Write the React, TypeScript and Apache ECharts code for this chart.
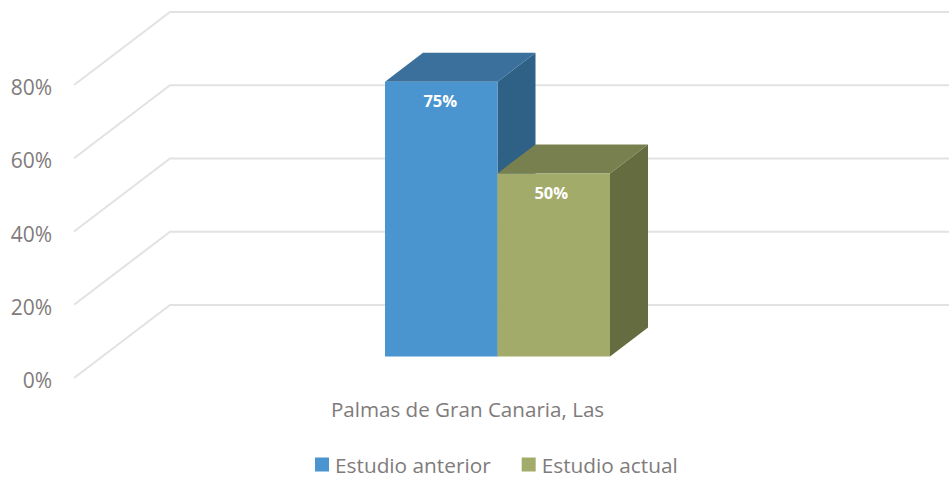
import React, { useEffect, useRef } from "react";
import * as echarts from "echarts";

const categories = ["Palmas de Gran Canaria, Las"];
const seriesNames = ["Estudio anterior", "Estudio actual"];
const estudioAnterior = [75];
const estudioActual = [50];
const yTicks = [0, 20, 40, 60, 80];

const W = 949;
const H = 477;
const FONT = "'Open Sans', sans-serif";
const TEXT = "#7f7b7b";
const BAR_W = 112.5;
const PLANE_DX = 30;
const PLANE_DY = 21.5;
const DEPTH_DX = 38;
const DEPTH_DY = 29;

function barSeries(name: string, values: number[], slot: number, front: string, top: string, side: string) {
  return {
    type: "custom",
    name,
    itemStyle: { color: front },
    encode: { x: 0, y: 1 },
    clip: false,
    z: 3,
    data: values.map((v, i) => [i, v]),
    renderItem: (_: any, api: any) => {
      const c = api.coord([api.value(0), api.value(1)]);
      const b = api.coord([api.value(0), 0]);
      const x0 = c[0] + PLANE_DX + (slot - 1) * BAR_W;
      const x1 = x0 + BAR_W;
      const yT = c[1] - PLANE_DY;
      const yB = b[1] - PLANE_DY;
      return {
        type: "group",
        children: [
          {
            type: "polygon",
            shape: { points: [[x1, yT], [x1 + DEPTH_DX, yT - DEPTH_DY], [x1 + DEPTH_DX, yB - DEPTH_DY], [x1, yB]] },
            style: { fill: side },
          },
          {
            type: "polygon",
            shape: { points: [[x0, yT], [x0 + DEPTH_DX, yT - DEPTH_DY], [x1 + DEPTH_DX, yT - DEPTH_DY], [x1, yT]] },
            style: { fill: top },
          },
          {
            type: "rect",
            shape: { x: x0, y: yT, width: BAR_W, height: yB - yT },
            style: { fill: front },
          },
          {
            type: "text",
            x: x0 + BAR_W / 2 - 1 - slot * 1.5,
            y: yT + 19,
            style: {
              text: api.value(1) + "%",
              fill: "#ffffff",
              font: `bold 16.5px ${FONT}`,
              align: "center",
              verticalAlign: "middle",
            },
          },
        ],
      };
    },
  };
}

export default function App() {
  const ref = useRef<HTMLDivElement>(null);
  useEffect(() => {
    document.body.style.margin = "0";
    const chart = echarts.init(ref.current!, undefined, { renderer: "svg" });
    chart.setOption({
      animation: false,
      backgroundColor: "#ffffff",
      grid: { left: 74, top: 85, width: 787, height: 293 },
      legend: {
        data: seriesNames,
        left: 310,
        top: 449,
        icon: "rect",
        itemWidth: 14,
        itemHeight: 14,
        itemGap: 31,
        textStyle: { color: TEXT, fontFamily: FONT, fontSize: 20.8, padding: [0, 0, 0, 1] },
      },
      xAxis: {
        type: "category",
        data: categories,
        axisLine: { show: false },
        axisTick: { show: false },
        axisLabel: { color: TEXT, fontFamily: FONT, fontSize: 20.6, margin: 20 },
      },
      yAxis: {
        type: "value",
        min: 0,
        max: 80,
        interval: 20,
        axisLine: { show: false },
        axisTick: { show: false },
        splitLine: { show: false },
        axisLabel: {
          margin: 22,
          formatter: "{t|{value}%}",
          rich: { t: { color: TEXT, fontFamily: FONT, fontSize: 21, padding: [4, 0, 0, 0] } },
        },
      },
      series: [
        {
          type: "custom",
          name: "wall",
          silent: true,
          clip: false,
          z: 1,
          encode: { y: 0 },
          data: yTicks.map((v) => [v]),
          renderItem: (_: any, api: any) => {
            const p = api.coord([0, api.value(0)]);
            const x0 = 74;
            return {
              type: "polyline",
              shape: { points: [[x0, p[1]], [x0 + 96, p[1] - 73], [W, p[1] - 73]] },
              style: { fill: "none", stroke: "#e2e2e2", lineWidth: 2 },
            };
          },
        },
        barSeries(seriesNames[0], estudioAnterior, 0, "#4a94cf", "#3a709b", "#2f6186"),
        barSeries(seriesNames[1], estudioActual, 1, "#a2ab69", "#78804f", "#656c40"),
      ],
    });
    return () => chart.dispose();
  }, []);
  return <div ref={ref} style={{ width: W, height: H }} />;
}
